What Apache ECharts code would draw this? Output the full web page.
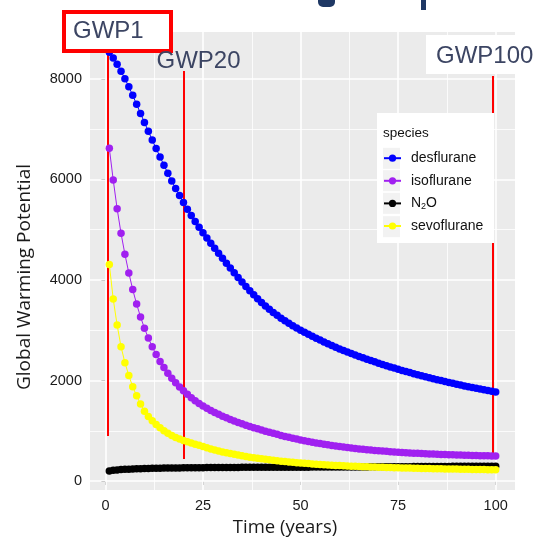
<!DOCTYPE html>
<html>
<head>
<meta charset="utf-8">
<script src="https://cdn.jsdelivr.net/npm/echarts@6/dist/echarts.min.js"></script>
<style>
html,body{margin:0;padding:0;background:#fff;}
#chart{width:545px;height:539px;}
</style>
</head>
<body>
<div id="chart"></div>
<script>
// ---- data ----
const years = [1,2,3,4,5,6,7,8,9,10,11,12,13,14,15,16,17,18,19,20,21,22,23,24,25,26,27,28,29,30,31,32,33,34,35,36,37,38,39,40,41,42,43,44,45,46,47,48,49,50,51,52,53,54,55,56,57,58,59,60,61,62,63,64,65,66,67,68,69,70,71,72,73,74,75,76,77,78,79,80,81,82,83,84,85,86,87,88,89,90,91,92,93,94,95,96,97,98,99,100];

const desflurane = [8530,8420,8295,8155,8005,7845,7675,7495,7315,7135,6960,6785,6615,6450,6285,6125,5970,5822,5680,5543,5410,5285,5165,5050,4940,4835,4733,4632,4532,4433,4335,4238,4143,4050,3959,3871,3786,3704,3626,3552,3482,3416,3354,3296,3241,3189,3139,3091,3045,3001,2959,2918,2879,2841,2804,2767,2731,2696,2662,2629,2597,2566,2536,2507,2479,2451,2424,2397,2371,2345,2320,2295,2271,2247,2224,2201,2179,2157,2136,2115,2095,2075,2055,2036,2017,1998,1980,1962,1944,1927,1910,1893,1877,1861,1845,1830,1815,1800,1786,1772];

const isoflurane = [6620,5990,5420,4930,4510,4140,3810,3520,3265,3040,2845,2672,2518,2380,2257,2146,2046,1955,1872,1795,1724,1659,1599,1544,1494,1448,1405,1365,1327,1291,1257,1225,1195,1166,1138,1111,1087,1062,1038,1015,992,970,949,928,907,887,869,851,834,817,801,786,771,757,744,731,719,707,696,685,675,665,656,647,639,631,623,616,609,602,596,590,584,578,573,568,563,558,554,550,546,542,538,535,532,529,526,523,520,518,515,513,511,509,507,505,503,501,499,497];

const n2o = [200,212,220,227,232,236,240,243,246,248,250,252,254,255,257,258,259,260,261,262,263,264,265,266,266,267,268,268,269,269,270,270,271,271,272,272,272,273,273,273,274,274,274,274,275,275,275,275,276,276,276,276,277,277,277,277,278,278,278,279,279,279,280,280,280,281,281,282,282,282,283,283,284,284,285,285,286,286,287,287,288,288,289,289,290,290,291,291,292,292,293,293,293,294,294,295,295,295,296,296];

const sevoflurane = [4310,3620,3105,2673,2353,2100,1875,1695,1530,1390,1285,1200,1125,1060,1000,950,905,867,835,808,782,757,733,710,688,660,638,617,597,578,561,545,530,515,501,488,475,463,452,441,431,421,412,403,395,387,379,372,365,358,352,346,340,335,330,325,320,315,311,307,303,299,296,292,289,286,283,280,277,275,272,270,268,265,263,261,259,257,255,253,251,249,248,246,244,243,241,240,238,237,235,234,233,231,230,229,228,226,225,224];

const seriesNames = ['desflurane','isoflurane','N2O','sevoflurane'];
const xTicks = [0,25,50,75,100];
const yTicks = [0,2000,4000,6000,8000];
const xMinor = [12.5,37.5,62.5,87.5];
const yMinor = [1000,3000,5000,7000];
// GWP marker lines: [year, lower value, upper value]
const gwpMarks = [[0.7, 896, 8700],[20, 438, 8159],[99.2, 478, 8059]];
const gwpLabels = ['GWP1','GWP20','GWP100'];

// ---- chart ----
const colors = ['#0000FF','#A020F0','#000000','#FFFF00'];
const dataSets = [desflurane, isoflurane, n2o, sevoflurane];

function pairs(vals){ return years.map((y,i)=>[y, vals[i]]); }

const dataSeries = seriesNames.map((name, k) => ({
  name: name,
  type: 'line',
  data: pairs(dataSets[k]),
  symbol: 'circle',
  symbolSize: 7.5,
  showSymbol: true,
  showAllSymbol: true,
  zlevel: 1,
  z: 2,
  itemStyle: {color: colors[k], borderWidth: 0},
  lineStyle: {color: colors[k], width: 1},
  emphasis: {disabled: true},
  animation: false
}));

const gridSeries = {
  type: 'line', data: [], symbol: 'none', showSymbol: false, zlevel: 0, z: 1, silent: true, animation: false,
  markLine: {
    silent: true, symbol: ['none','none'], animation: false,
    label: {show: false},
    data: [
      ...xMinor.map(v => ({xAxis: v, lineStyle: {color:'#FFFFFF', width: 0.8, type:'solid'}})),
      ...yMinor.map(v => ({yAxis: v, lineStyle: {color:'#FFFFFF', width: 0.8, type:'solid'}})),
      ...xTicks.map(v => ({xAxis: v, lineStyle: {color:'#FFFFFF', width: 1.6, type:'solid'}})),
      ...yTicks.map(v => ({yAxis: v, lineStyle: {color:'#FFFFFF', width: 1.6, type:'solid'}}))
    ]
  }
};

const redSeries = {
  type: 'line', data: [], symbol: 'none', showSymbol: false, zlevel: 1, z: 5, silent: true, animation: false,
  markLine: {
    silent: true, symbol: ['none','none'], animation: false,
    label: {show: false},
    lineStyle: {color: '#FF0000', width: 2, type: 'solid'},
    data: gwpMarks.map(m => [{coord: [m[0], m[1]]}, {coord: [m[0], m[2]]}])
  }
};

const titleColor = '#3C4563';
const keyRows = [158.3, 180.7, 203.3, 226.7];

const option = {
  animation: false,
  backgroundColor: '#FFFFFF',
  grid: {left: 90, right: 30, top: 32, bottom: 49, show: true, backgroundColor: '#EBEBEB', borderWidth: 0},
  xAxis: {
    type: 'value', min: -3.95, max: 104.95,
    axisLine: {show: false},
    axisTick: {show: true, length: 4, lineStyle: {color: '#333333', width: 1}, customValues: xTicks},
    axisLabel: {customValues: xTicks, color: '#1a1a1a', fontSize: 14.5, fontFamily: 'Liberation Sans', margin: 8, formatter: v => String(v)},
    splitLine: {show: false}
  },
  yAxis: {
    type: 'value', min: -179, max: 8935,
    axisLine: {show: false},
    axisTick: {show: true, length: 4, lineStyle: {color: '#333333', width: 1}, customValues: yTicks},
    axisLabel: {customValues: yTicks, color: '#1a1a1a', fontSize: 14.5, fontFamily: 'Liberation Sans', margin: 8, formatter: v => String(v)},
    splitLine: {show: false}
  },
  legend: {
    orient: 'vertical', left: 383, top: 146.9, padding: 0,
    itemWidth: 17, itemHeight: 9, itemGap: 0, zlevel: 1, z: 6,
    data: seriesNames,
    formatter: function(name){ return name === 'N2O' ? 'N{sub|2}O' : name; },
    textStyle: {
      color: '#111111', fontSize: 14, fontFamily: 'Liberation Sans', lineHeight: 22.6,
      padding: [0,0,0,5],
      rich: {sub: {fontSize: 9, color: '#111111', fontFamily: 'Liberation Sans', padding: [7,0,0,0]}}
    }
  },
  graphic: [
    {type: 'rect', zlevel: 1, z: 3, shape: {x: 377, y: 113, width: 117, height: 130}, style: {fill: '#FFFFFF'}},
    ...keyRows.map(r => ({type: 'rect', zlevel: 1, z: 3, shape: {x: 383, y: r - 10.5, width: 17, height: 21}, style: {fill: '#F2F2F2'}})),
    {type: 'text', zlevel: 1, z: 4, x: 383, y: 133, style: {text: 'species', fill: '#111111', font: '13.5px "Liberation Sans"', textAlign: 'left', textVerticalAlign: 'middle'}},
    {type: 'text', x: 25, y: 277, rotation: Math.PI/2, style: {text: 'Global Warming Potential', fill: '#1a1a1a', font: '19px "Open Sans"', textAlign: 'center', textVerticalAlign: 'middle'}},
    {type: 'text', x: 285, y: 528, style: {text: 'Time (years)', fill: '#1a1a1a', font: '18.5px "Open Sans"', textAlign: 'center', textVerticalAlign: 'middle'}},
    {type: 'rect', zlevel: 1, z: 10, shape: {x: 318, y: 0, width: 17, height: 7, r: [0,0,5,5]}, style: {fill: '#1F3864'}},
    {type: 'rect', zlevel: 1, z: 10, shape: {x: 421, y: 0, width: 5, height: 10}, style: {fill: '#1F3864'}},
    {type: 'rect', zlevel: 1, z: 10, shape: {x: 64, y: 12, width: 107, height: 39}, style: {fill: '#FFFFFF', stroke: '#FF0000', lineWidth: 4}},
    {type: 'text', zlevel: 1, z: 11, x: 73, y: 31, style: {text: gwpLabels[0], fill: titleColor, font: '24px "Liberation Sans"', textAlign: 'left', textVerticalAlign: 'middle'}},
    {type: 'text', zlevel: 1, z: 11, x: 156.5, y: 61, style: {text: gwpLabels[1], fill: titleColor, font: '24px "Liberation Sans"', textAlign: 'left', textVerticalAlign: 'middle'}},
    {type: 'rect', zlevel: 1, z: 10, shape: {x: 426, y: 35, width: 119, height: 39}, style: {fill: '#FFFFFF'}},
    {type: 'text', zlevel: 1, z: 11, x: 436, y: 56, style: {text: gwpLabels[2], fill: titleColor, font: '24px "Liberation Sans"', textAlign: 'left', textVerticalAlign: 'middle'}}
  ],
  series: [gridSeries, ...dataSeries, redSeries]
};

const chart = echarts.init(document.getElementById('chart'), null, {renderer: 'canvas'});
chart.setOption(option);
</script>
</body>
</html>
